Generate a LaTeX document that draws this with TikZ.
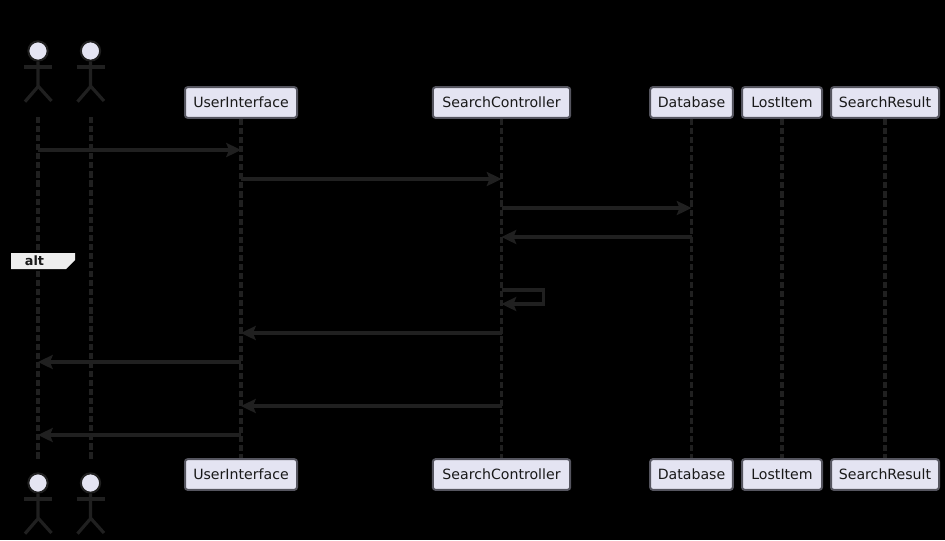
\documentclass[tikz,border=0pt]{standalone}
\usepackage{fontspec}
\setmainfont{DejaVu Sans}
\usetikzlibrary{arrows.meta}
\definecolor{boxfill}{HTML}{E4E4F2}
\definecolor{boxline}{HTML}{55555F}
\definecolor{inkdark}{HTML}{202020}
\definecolor{altfill}{HTML}{EEEEEE}
\tikzset{
  box/.style={draw=boxline, fill=boxfill, line width=1.5pt, rounded corners=2pt, text=black!90,
    minimum height=23pt, inner sep=0pt, font=\fontsize{10.6}{12}\selectfont},
  head/.style={circle, draw=inkdark, fill=boxfill, line width=1.5pt, minimum size=14.5pt, inner sep=0pt},
  limb/.style={draw=inkdark, line width=2.4pt},
  lifeline/.style={draw=inkdark, line width=2.4pt, dash pattern=on 4.6pt off 2.2pt},
  thickline/.style={lifeline, line width=3pt},
  msg/.style={draw=inkdark, line width=2.6pt, -{Stealth[length=11pt,width=10.5pt,inset=2pt]}}
}
\begin{document}
\begin{tikzpicture}[x=0.75pt,y=-0.75pt]
    \fill[black] (0,0) rectangle (945,540); % page
    \useasboundingbox (0,0) rectangle (945,540);
    \node[box, minimum width=84pt] (uiTop) at (241,102.5) {UserInterface};
    \node[box, minimum width=103pt] (scTop) at (501.5,102.5) {SearchController};
    \node[box, minimum width=62pt] (dbTop) at (691.5,102.5) {Database};
    \node[box, minimum width=60pt] (liTop) at (782,102.5) {LostItem};
    \node[box, minimum width=81pt] (srTop) at (885,102.5) {SearchResult};
    \node[box, minimum width=84pt] (uiBot) at (241,474.5) {UserInterface};
    \node[box, minimum width=103pt] (scBot) at (501.5,474.5) {SearchController};
    \node[box, minimum width=62pt] (dbBot) at (691.5,474.5) {Database};
    \node[box, minimum width=60pt] (liBot) at (782,474.5) {LostItem};
    \node[box, minimum width=81pt] (srBot) at (885,474.5) {SearchResult};
    % actors, top and bottom
    \foreach \name/\x/\y in {actA/38/51, actB/90.5/51, actC/38/483, actD/90.5/483} {
      \node[head] (\name) at (\x,\y) {};
      \draw[limb] (\name.south) -- ++(0,25) -- ++(-13,15); % body, left leg
      \draw[limb] (\name) ++(0,35) -- ++(13.5,15); % right leg
      \draw[limb] (\name) ++(-14,16) -- ++(28,0); % arms
    }
    % lifelines
    \draw[thickline] (actA |- 0,117) -- (actC |- 0,461);
    \draw[thickline] (actB |- 0,117) -- (actD |- 0,461);
    \foreach \a/\b in {uiTop/uiBot, scTop/scBot, dbTop/dbBot, liTop/liBot, srTop/srBot}
      \draw[lifeline] (\a.south) -- (\b.north);
    % messages
    \draw[msg] (actA |- 0,150) -- (uiTop |- 0,150);
    \draw[msg] (uiTop |- 0,179) -- (scTop |- 0,179);
    \draw[msg] (scTop |- 0,208) -- (dbTop |- 0,208);
    \draw[msg] (dbTop |- 0,237) -- (scTop |- 0,237);
    \draw[msg] (scTop |- 0,290) -- ++(42,0) -- ++(0,14) -- (scTop |- 0,304); % self call
    \draw[msg] (scTop |- 0,333) -- (uiTop |- 0,333);
    \draw[msg] (uiTop |- 0,362) -- (actA |- 0,362);
    \draw[msg] (scTop |- 0,406) -- (uiTop |- 0,406);
    \draw[msg] (uiTop |- 0,435) -- (actA |- 0,435);
    % alt label
    \fill[altfill] (11,253) -- (75,253) -- (75,260) -- (66,269) -- (11,269) -- cycle;
    \node[font=\fontsize{9.6}{12}\selectfont\bfseries, text=black!90, inner sep=0pt] (altTag) at (34.5,261) {alt};
\end{tikzpicture}
\end{document}
